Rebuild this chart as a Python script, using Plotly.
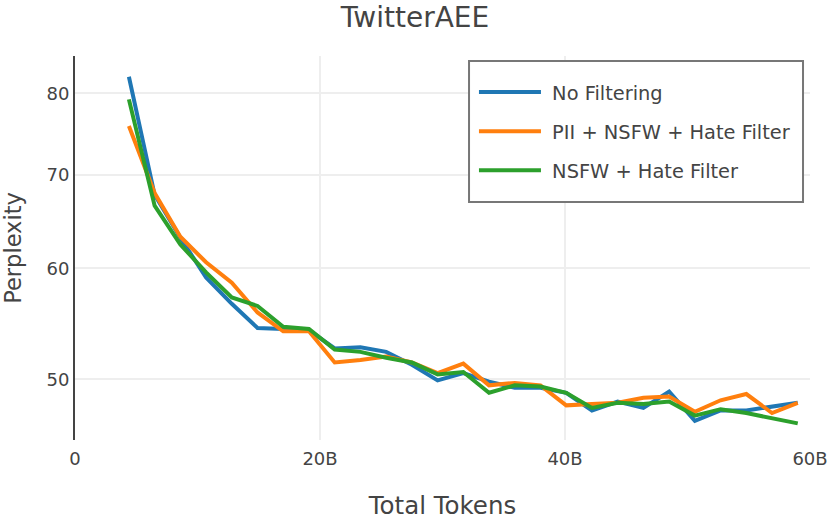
import plotly.graph_objects as go

tokens_b = [4.4, 6.5, 8.6, 10.7, 12.8, 14.9, 17.0, 19.1, 21.2, 23.3, 25.4, 27.5, 29.6, 31.7,
            33.8, 35.9, 38.0, 40.1, 42.2, 44.3, 46.4, 48.5, 50.6, 52.7, 54.8, 56.9, 59.0]

no_filtering = [82.2, 67.7, 63.1, 59.1, 56.6, 54.4, 54.3, 54.2, 52.6, 52.7, 52.3, 51.2, 49.9, 50.5,
                49.8, 49.3, 49.3, 48.9, 47.5, 48.2, 47.7, 49.0, 46.7, 47.5, 47.5, 47.8, 48.1]
pii_nsfw_hate = [75.8, 67.9, 63.2, 60.6, 58.6, 55.8, 54.1, 54.1, 51.4, 51.6, 51.9, 51.4, 50.5, 51.3,
                 49.5, 49.7, 49.5, 47.9, 48.0, 48.1, 48.5, 48.6, 47.4, 48.3, 48.8, 47.3, 48.1]
nsfw_hate = [79.2, 66.5, 62.4, 59.6, 57.2, 56.4, 54.5, 54.3, 52.5, 52.3, 51.8, 51.4, 50.4, 50.6,
             48.9, 49.5, 49.4, 48.9, 47.7, 48.1, 48.0, 48.2, 47.1, 47.6, 47.3, 46.9, 46.5]

series_names = ["No Filtering", "PII + NSFW + Hate Filter", "NSFW + Hate Filter"]
series_values = [no_filtering, pii_nsfw_hate, nsfw_hate]
colors = ["#1f77b4", "#ff7f0e", "#2ca02c"]

x_tickvals = [0, 20, 40, 60]
x_ticktext = ["0", "20B", "40B", "60B"]
y_tickvals = [50, 60, 70, 80]

fig = go.Figure()
for name, vals, c in zip(series_names, series_values, colors):
    fig.add_trace(go.Scatter(x=tokens_b, y=vals, mode="lines", name="\u00a0" + name,
                             legendgroup=name,
                             line=dict(color=c, width=4)))

# legend frame (opaque box behind the legend entries)
fig.add_shape(type="rect", xref="paper", yref="paper",
              x0=0.5361, x1=0.9905, y0=0.6198, y1=0.9870,
              line=dict(color="#777", width=2), fillcolor="white", layer="above")

fig.update_layout(
    template="none",
    width=830, height=520,
    margin=dict(l=75, r=20, t=56, b=80, autoexpand=False),
    font=dict(family="DejaVu Sans", size=18, color="#444"),
    title=dict(text="TwitterAEE", x=0.5, xanchor="center", y=0.966, yanchor="middle",
               font=dict(size=28)),
    paper_bgcolor="white", plot_bgcolor="white",
    legend=dict(x=0.5428, y=0.9557, xanchor="left", yanchor="top",
                borderwidth=0, bgcolor="rgba(0,0,0,0)",
                itemwidth=62, tracegroupgap=10.8, font=dict(size=19.4)),
    showlegend=True,
)
fig.update_xaxes(range=[0, 60], tickvals=x_tickvals, ticktext=x_ticktext,
                 showgrid=True, gridcolor="#eee", gridwidth=2, zeroline=False,
                 showline=False, ticks="", ticklabelstandoff=6,
                 title=dict(text="Total Tokens", font=dict(size=24.5), standoff=30))
fig.update_yaxes(type="log", range=[1.6556, 1.9297], tickvals=y_tickvals,
                 showgrid=True, gridcolor="#eee", gridwidth=2, zeroline=False,
                 showline=True, linecolor="#444", linewidth=2, ticks="",
                 title=dict(text="Perplexity", font=dict(size=22.5), standoff=20))

fig.write_html("out.html", config={"displayModeBar": False},
               post_script="document.body.style.margin='0px';")
